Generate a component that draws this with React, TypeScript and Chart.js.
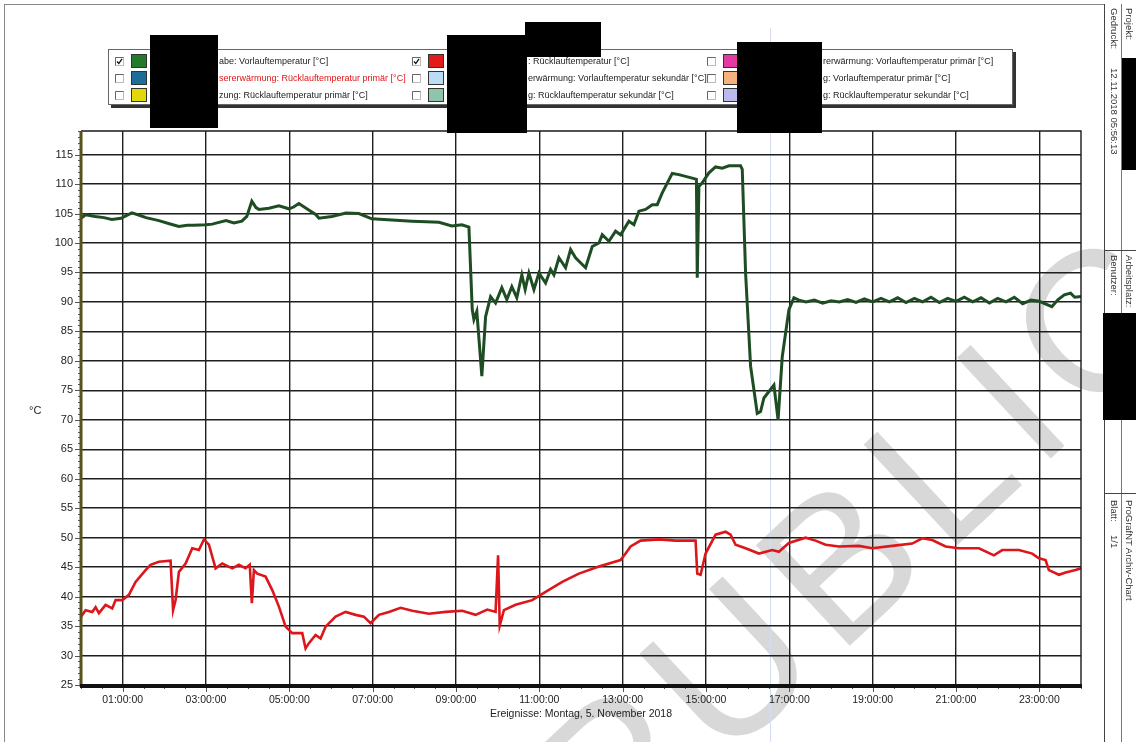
import React, { useEffect, useRef } from "react";
import { Chart, registerables } from "chart.js";

Chart.register(...registerables);

// ---- data (time in hours of 5 Nov 2018, temperature in °C) ----
const vorlaufSeries: [number, number][] = [
  [0.0, 104.2], [0.11, 104.8], [0.34, 104.5], [0.55, 104.3], [0.74, 104.0], [0.96, 104.2], [1.22, 105.1], [1.4, 104.7],
  [1.56, 104.3], [1.87, 103.8], [2.1, 103.3], [2.35, 102.8], [2.55, 103.0], [2.71, 103.0], [3.0, 103.1], [3.15, 103.2],
  [3.31, 103.5], [3.48, 103.8], [3.67, 103.4], [3.86, 103.7], [3.98, 104.5], [4.1, 107.1], [4.2, 106.0], [4.27, 105.7],
  [4.51, 105.9], [4.75, 106.3], [4.99, 105.8], [5.1, 106.1], [5.23, 106.7], [5.42, 105.8], [5.64, 104.8], [5.71, 104.2],
  [6.02, 104.5], [6.36, 105.1], [6.67, 105.0], [6.98, 104.1], [7.27, 104.0], [7.56, 103.85], [7.94, 103.7], [8.28, 103.6],
  [8.59, 103.5], [8.9, 102.9], [9.14, 103.1], [9.31, 102.7], [9.39, 88.7], [9.43, 87.0], [9.5, 88.4], [9.62, 77.4],
  [9.71, 87.5], [9.83, 90.9], [9.95, 89.8], [10.1, 92.4], [10.22, 90.4], [10.34, 92.6], [10.46, 90.7], [10.58, 94.6],
  [10.66, 92.1], [10.75, 94.9], [10.87, 92.1], [10.99, 94.9], [11.15, 93.2], [11.27, 95.5], [11.35, 94.6], [11.47, 97.5],
  [11.63, 95.8], [11.75, 98.9], [11.87, 97.5], [12.11, 95.8], [12.27, 99.4], [12.43, 100.0], [12.51, 101.4], [12.67, 100.3],
  [12.83, 102.0], [12.95, 101.4], [13.15, 103.7], [13.27, 103.1], [13.39, 105.4], [13.55, 105.7], [13.71, 106.5], [13.83, 106.5],
  [13.95, 108.5], [14.19, 111.8], [14.35, 111.6], [14.67, 111.0], [14.77, 110.8], [14.79, 94.1], [14.83, 109.6], [14.91, 110.2],
  [15.07, 111.9], [15.23, 112.9], [15.39, 112.7], [15.55, 113.1], [15.83, 113.1], [15.87, 112.5], [15.95, 94.9], [16.07, 79.1],
  [16.23, 71.1], [16.31, 71.4], [16.39, 73.7], [16.63, 75.9], [16.73, 70.0], [16.83, 80.7], [16.99, 88.7], [17.11, 90.7],
  [17.23, 90.3], [17.4, 90.0], [17.6, 90.3], [17.8, 89.8], [18.0, 90.2], [18.2, 90.0], [18.4, 90.4], [18.6, 89.9],
  [18.8, 90.5], [19.0, 90.0], [19.2, 90.6], [19.4, 90.0], [19.6, 90.7], [19.8, 89.9], [20.0, 90.6], [20.2, 90.0],
  [20.4, 90.8], [20.6, 89.9], [20.8, 90.6], [21.0, 90.1], [21.2, 90.8], [21.4, 90.0], [21.6, 90.7], [21.8, 89.8],
  [22.0, 90.6], [22.2, 90.0], [22.4, 90.8], [22.6, 89.7], [22.8, 90.3], [23.0, 90.1], [23.3, 89.2], [23.45, 90.4],
  [23.6, 91.2], [23.75, 91.5], [23.85, 90.8], [24.0, 90.9],
];

const ruecklaufSeries: [number, number][] = [
  [0.0, 36.6], [0.11, 37.7], [0.27, 37.4], [0.35, 38.2], [0.43, 37.2], [0.59, 38.6], [0.75, 38.0], [0.83, 39.4],
  [0.99, 39.4], [1.15, 40.3], [1.31, 42.5], [1.55, 44.5], [1.67, 45.4], [1.87, 45.9], [2.15, 46.1], [2.21, 37.7],
  [2.27, 39.4], [2.35, 44.2], [2.51, 45.6], [2.67, 48.2], [2.83, 47.9], [2.95, 49.7], [3.07, 48.8], [3.23, 44.8],
  [3.39, 45.6], [3.63, 44.8], [3.79, 45.4], [3.95, 44.8], [4.05, 45.4], [4.1, 38.9], [4.15, 44.5], [4.23, 43.9],
  [4.43, 43.4], [4.59, 41.1], [4.75, 38.3], [4.91, 34.9], [5.07, 33.8], [5.31, 33.8], [5.39, 31.2], [5.47, 32.1],
  [5.63, 33.5], [5.75, 32.9], [5.87, 34.9], [6.11, 36.6], [6.35, 37.4], [6.59, 36.9], [6.79, 36.6], [6.95, 35.5],
  [7.15, 36.9], [7.39, 37.4], [7.67, 38.1], [7.95, 37.6], [8.35, 37.1], [8.75, 37.4], [9.15, 37.6], [9.47, 36.9],
  [9.75, 37.8], [9.95, 37.4], [10.01, 47.0], [10.05, 35.1], [10.15, 37.7], [10.43, 38.6], [10.83, 39.4], [11.15, 40.8],
  [11.55, 42.5], [11.95, 43.9], [12.43, 45.1], [12.95, 46.2], [13.07, 47.3], [13.19, 48.5], [13.43, 49.5], [13.87, 49.7],
  [14.27, 49.5], [14.75, 49.5], [14.79, 43.9], [14.87, 43.7], [14.99, 47.3], [15.23, 50.5], [15.47, 51.0], [15.59, 50.5],
  [15.71, 48.8], [15.95, 48.2], [16.27, 47.3], [16.59, 47.9], [16.75, 47.6], [16.99, 49.1], [17.39, 50.0], [17.63, 49.5],
  [17.87, 48.8], [18.19, 48.5], [18.67, 48.6], [18.99, 48.2], [19.47, 48.6], [19.95, 49.0], [20.19, 49.9], [20.43, 49.6],
  [20.75, 48.5], [21.07, 48.2], [21.55, 48.2], [21.91, 47.0], [22.11, 47.9], [22.51, 47.9], [22.83, 47.3], [22.99, 46.5],
  [23.15, 46.2], [23.23, 44.5], [23.47, 43.7], [23.63, 44.1], [23.87, 44.5], [24.0, 44.8],
];

const xTickHours = [1, 3, 5, 7, 9, 11, 13, 15, 17, 19, 21, 23];
const xTickLabels = ["01:00:00", "03:00:00", "05:00:00", "07:00:00", "09:00:00", "11:00:00", "13:00:00", "15:00:00", "17:00:00", "19:00:00", "21:00:00", "23:00:00"];
const yTickValues = [25, 30, 35, 40, 45, 50, 55, 60, 65, 70, 75, 80, 85, 90, 95, 100, 105, 110, 115];
const xAxisTitle = "Ereignisse: Montag, 5. November 2018";
const yAxisTitle = "°C";

const legendColumns = [
  { x: 115, items: [
    { checked: true, color: "#237a2b", text: "abe: Vorlauftemperatur [°C]", textColor: "#222" },
    { checked: false, color: "#1c6e98", text: "sererwärmung: Rücklauftemperatur primär [°C]", textColor: "#e01414" },
    { checked: false, color: "#e2d70a", text: "zung: Rücklauftemperatur primär [°C]", textColor: "#222" },
  ], textX: 219 },
  { x: 412, items: [
    { checked: true, color: "#e21b1b", text: ": Rücklauftemperatur [°C]", textColor: "#222" },
    { checked: false, color: "#bcdcf5", text: "erwärmung: Vorlauftemperatur sekundär [°C]", textColor: "#222" },
    { checked: false, color: "#8fc6ab", text: "g: Rücklauftemperatur sekundär [°C]", textColor: "#222" },
  ], textX: 528 },
  { x: 707, items: [
    { checked: false, color: "#e23aa0", text: "rerwärmung: Vorlauftemperatur primär [°C]", textColor: "#222" },
    { checked: false, color: "#f5b27c", text: "g: Vorlauftemperatur primär [°C]", textColor: "#222" },
    { checked: false, color: "#b9b9ee", text: "g: Rücklauftemperatur sekundär [°C]", textColor: "#222" },
  ], textX: 823 },
];
const legendRowY = [54, 71, 88];

const FONT = "'Liberation Sans', Arial, sans-serif";

const framePlugin = {
  id: "frame",
  afterDraw(chart: any) {
    const { ctx, chartArea: a, scales } = chart;
    const ys = scales.y;
    const xs = scales.x;
    ctx.save();
    ctx.strokeStyle = "#1a1a1a";
    ctx.lineWidth = 1.4;
    ctx.beginPath();
    ctx.moveTo(a.left, a.top);
    ctx.lineTo(a.right, a.top);
    ctx.lineTo(a.right, a.bottom);
    ctx.stroke();
    ctx.strokeStyle = "#555";
    ctx.lineWidth = 1;
    for (let v = 25; v <= 119; v++) {
      const py = Math.round(ys.getPixelForValue(v)) + 0.5;
      const len = v % 5 === 0 ? 6 : 3;
      ctx.beginPath();
      ctx.moveTo(a.left - len, py);
      ctx.lineTo(a.left, py);
      ctx.stroke();
    }
    for (let h = 0; h <= 24; h += 0.5) {
      const px = Math.round(xs.getPixelForValue(h)) + 0.5;
      const len = h % 2 === 1 ? 7 : 4;
      ctx.beginPath();
      ctx.moveTo(px, a.bottom);
      ctx.lineTo(px, a.bottom + len);
      ctx.stroke();
    }
    ctx.strokeStyle = "#55531c";
    ctx.lineWidth = 3;
    ctx.beginPath();
    ctx.moveTo(a.left, a.top);
    ctx.lineTo(a.left, a.bottom + 2);
    ctx.stroke();
    ctx.strokeStyle = "#111";
    ctx.lineWidth = 4;
    ctx.beginPath();
    ctx.moveTo(a.left - 1, a.bottom + 1);
    ctx.lineTo(a.right + 1, a.bottom + 1);
    ctx.stroke();
    ctx.restore();
  },
};

function CheckBox({ checked }: { checked: boolean }) {
  return (
    <svg width="9" height="9" style={{ display: "block" }}>
      <rect x="0.5" y="0.5" width="8" height="8" fill="#fff" stroke="#bbb" />
      <path d="M0.5 8.5 V0.5 H8.5" fill="none" stroke="#666" />
      {checked ? <path d="M2 4.5 L3.8 6.5 L7 1.8" fill="none" stroke="#111" strokeWidth="1.3" /> : null}
    </svg>
  );
}

export default function App() {
  const canvasRef = useRef<HTMLCanvasElement | null>(null);

  useEffect(() => {
    const canvas = canvasRef.current;
    if (!canvas) return;
    const tickFont = { family: FONT, size: 10.5 };
    const chart = new Chart(canvas, {
      type: "line",
      data: {
        datasets: [
          {
            label: "Vorlauftemperatur [°C]",
            data: vorlaufSeries.map(([x, y]) => ({ x, y })),
            borderColor: "#1e4d24",
            borderWidth: 3,
            pointRadius: 0,
            tension: 0,
          },
          {
            label: "Rücklauftemperatur [°C]",
            data: ruecklaufSeries.map(([x, y]) => ({ x, y })),
            borderColor: "#dc161a",
            borderWidth: 2.6,
            pointRadius: 0,
            tension: 0,
          },
        ],
      },
      options: {
        responsive: false,
        animation: false,
        events: [],
        layout: { padding: { left: 0, top: 131, right: 55, bottom: 22 } },
        plugins: {
          legend: { display: false },
          tooltip: { enabled: false },
        },
        scales: {
          x: {
            type: "linear",
            min: 0,
            max: 24,
            afterBuildTicks: (s: any) => {
              s.ticks = xTickHours.map((v) => ({ value: v }));
            },
            afterFit: (s: any) => {
              s.height = 35;
            },
            grid: { color: "#1e1e1e", lineWidth: 1.4, drawTicks: false },
            border: { display: false },
            ticks: {
              padding: 9,
              autoSkip: false,
              maxRotation: 0,
              color: "#222",
              font: tickFont,
              callback: (_v: any, i: number) => xTickLabels[i],
            },
            title: { display: true, text: xAxisTitle, color: "#222", font: { family: FONT, size: 10.5 }, padding: 0 },
          },
          y: {
            type: "linear",
            min: 25,
            max: 119,
            afterBuildTicks: (s: any) => {
              s.ticks = yTickValues.map((v) => ({ value: v }));
            },
            afterFit: (s: any) => {
              s.width = 81;
            },
            grid: { color: "#1e1e1e", lineWidth: 1.4, drawTicks: false },
            border: { display: false },
            ticks: { padding: 8, color: "#222", font: { family: FONT, size: 11 } },
          },
        },
      },
      plugins: [framePlugin],
    } as any);
    return () => chart.destroy();
  }, []);

  const abs = (l: number, t: number, w: number, h: number, extra: any = {}) => ({
    position: "absolute" as const, left: l, top: t, width: w, height: h, ...extra,
  });
  const vtext = (l: number, t: number, text: string) => (
    <div style={{ position: "absolute", left: l, top: t, writingMode: "vertical-rl", fontFamily: FONT, fontSize: 9.5, color: "#333", whiteSpace: "nowrap", lineHeight: "12px" }}>{text}</div>
  );

  return (
    <div style={{ position: "absolute", left: 0, top: 0, width: 1136, height: 742, background: "#fff", overflow: "hidden" }}>
      {/* watermark */}
      <div style={{ position: "absolute", left: 862, top: 540, transform: "translate(-50%, -50%) rotate(-43deg)", fontFamily: FONT, fontSize: 200, lineHeight: 1, letterSpacing: 14, color: "#d8d8d8", whiteSpace: "nowrap" }}>PUBLIC</div>
      {/* faint scan line */}
      <div style={abs(770, 28, 1, 714, { background: "#d4dcf2" })} />
      <canvas ref={canvasRef} width={1136} height={742} style={{ position: "absolute", left: 0, top: 0 }} />
      {/* page frame */}
      <div style={abs(4, 4, 1100, 740, { borderTop: "1px solid #888", borderLeft: "1px solid #888" })} />
      {/* right info strip */}
      <div style={abs(1104, 4, 1, 740, { background: "#444" })} />
      <div style={abs(1121, 4, 1, 740, { background: "#777" })} />
      <div style={abs(1104, 250, 32, 1, { background: "#444" })} />
      <div style={abs(1104, 493, 32, 1, { background: "#444" })} />
      {vtext(1123, 8, "Projekt:")}
      {vtext(1108, 8, "Gedruckt:")}
      {vtext(1108, 68, "12.11.2018 05:56:13")}
      {vtext(1123, 255, "Arbeitsplatz:")}
      {vtext(1108, 255, "Benutzer:")}
      {vtext(1123, 500, "ProGrafNT  Archiv-Chart")}
      {vtext(1108, 500, "Blatt:")}
      {vtext(1108, 535, "1/1")}
      {/* y axis title */}
      <div style={{ position: "absolute", left: 29, top: 404, fontFamily: FONT, fontSize: 11, color: "#222" }}>{yAxisTitle}</div>
      {/* legend */}
      <div style={abs(108, 49, 905, 56, { border: "1px solid #666", boxShadow: "3px 3px 0 #333", background: "#fff", boxSizing: "border-box" })} />
      {legendColumns.map((col, ci) =>
        col.items.map((it, ri) => (
          <React.Fragment key={ci + "-" + ri}>
            <div style={{ position: "absolute", left: col.x, top: legendRowY[ri] + 3 }}>
              <CheckBox checked={it.checked} />
            </div>
            <div style={abs(col.x + 16, legendRowY[ri], 16, 14, { background: it.color, border: "1px solid #333", boxSizing: "border-box" })} />
            <div style={{ position: "absolute", left: col.textX, top: legendRowY[ri] + 1, fontFamily: FONT, fontSize: 9, color: it.textColor, whiteSpace: "nowrap", lineHeight: "12px" }}>{it.text}</div>
          </React.Fragment>
        ))
      )}
      {/* redaction boxes */}
      <div style={abs(150, 35, 68, 93, { background: "#000" })} />
      <div style={abs(447, 35, 80, 98, { background: "#000" })} />
      <div style={abs(525, 22, 76, 35, { background: "#000" })} />
      <div style={abs(737, 42, 85, 91, { background: "#000" })} />
      <div style={abs(1122, 58, 14, 112, { background: "#000" })} />
      <div style={abs(1103, 313, 33, 107, { background: "#000" })} />
    </div>
  );
}
